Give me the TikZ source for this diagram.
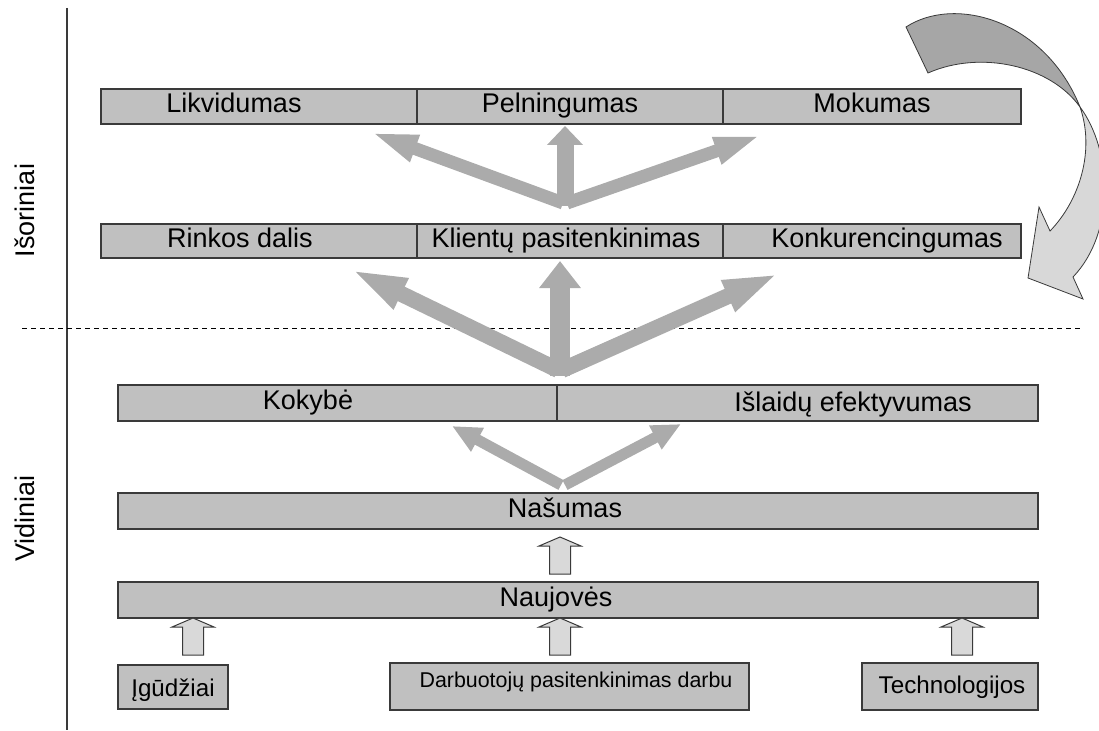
\documentclass[tikz,border=0pt]{standalone}
\usepackage{fontspec}
\setmainfont{Liberation Sans}
\usetikzlibrary{arrows.meta,calc}
\definecolor{boxgray}{HTML}{C0C0C0}
\definecolor{edgegray}{HTML}{3A3A3A}
\definecolor{fangray}{HTML}{ABABAB}
\definecolor{lightfill}{HTML}{D9D9D9}
\definecolor{curvedark}{HTML}{A6A6A6}
\definecolor{curvelight}{HTML}{D8D8D8}
\begin{document}
\begin{tikzpicture}[x=1pt,y=-1pt,
  box/.style={draw=edgegray, line width=1.2pt, fill=boxgray, inner sep=0pt, outer sep=0pt, rectangle},
  txt/.style={anchor=base, inner sep=0pt, font=\fontsize{27}{30}\selectfont},
  smalltxt/.style={anchor=base, inner sep=0pt, font=\fontsize{21.4}{24}\selectfont},
  midtxt/.style={anchor=base, inner sep=0pt, font=\fontsize{24.2}{27}\selectfont},
  fan/.style={draw=fangray, line cap=butt},
  hollow/.style={draw=edgegray, line width=1pt, fill=lightfill, line join=miter},
  uparrow/.pic={\draw[hollow] (-10.5,0) -- (-10.5,-28) -- (-21,-28) -- (0,-37) -- (21,-28) -- (10.5,-28) -- (10.5,0) -- cycle;}
]
\useasboundingbox (0,0) rectangle (1099,730);

% axis lines
\coordinate (vtop) at (67,8);
\coordinate (vbot) at (67,730);
\draw[edgegray, line width=1.3pt] (vtop) -- (vbot);
\coordinate (dl) at (22,328);
\coordinate (dr) at (1080,328);
\draw[black, line width=1pt, dash pattern=on 5pt off 4pt] (dl) -- (dr);

% side labels
\node[txt, rotate=90] (ext) at (34,210.5) {Išoriniai};
\node[txt, rotate=90] (int) at (34,518.5) {Vidiniai};

% row 1
\node[box, minimum width=316pt, minimum height=35pt] (lik) at (259,106.5) {};
\node[box, minimum width=306pt, minimum height=35pt] (pel) at (570,106.5) {};
\node[box, minimum width=298pt, minimum height=35pt] (mok) at (872,106.5) {};
\node[txt] (likt) at (234,113) {Likvidumas};
\node[txt] (pelt) at (560,113) {Pelningumas};
\node[txt] (mokt) at (872,113) {Mokumas};

% row 2
\node[box, minimum width=316pt, minimum height=34pt] (rin) at (259,241) {};
\node[box, minimum width=306pt, minimum height=34pt] (kli) at (570,241) {};
\node[box, minimum width=298pt, minimum height=34pt] (kon) at (872,241) {};
\node[txt] (rint) at (240,247) {Rinkos dalis};
\node[txt] (klit) at (566,247) {Klientų pasitenkinimas};
\node[txt] (kont) at (887,247) {Konkurencingumas};

% row 3
\node[box, minimum width=439pt, minimum height=36pt] (kok) at (337.5,403) {};
\node[box, minimum width=481pt, minimum height=36pt] (isl) at (797.5,403) {};
\node[txt] (kokt) at (308,409) {Kokybė};
\node[txt] (islt) at (853,411) {Išlaidų efektyvumas};

% Našumas, Naujovės
\node[box, minimum width=920pt, minimum height=36pt] (nas) at (578,511) {};
\node[txt] (nast) at (565,517) {Našumas};
\node[box, minimum width=920pt, minimum height=36pt] (nau) at (578,600) {};
\node[txt] (naut) at (556,606) {Naujovės};

% bottom boxes
\node[box, minimum width=110pt, minimum height=44pt] (ig) at (173,687) {};
\node[midtxt] (igt) at (173,696) {Įgūdžiai};
\node[box, minimum width=359pt, minimum height=47pt] (dar) at (569.5,686.5) {};
\node[smalltxt] (dart) at (576,687) {Darbuotojų pasitenkinimas darbu};
\node[box, minimum width=176pt, minimum height=47pt] (tec) at (950,686.5) {};
\node[midtxt] (tect) at (952,693) {Technologijos};

% hollow up arrows
\pic at (193,655) {uparrow};
\pic at (560,655) {uparrow};
\pic at (962,655) {uparrow};
\pic at (560,574) {uparrow};

% fan 1 (row 2 -> row 1)
\coordinate (f1c) at (565,206);
\coordinate (f1l) at (563,203);
\coordinate (f1r) at (567,203);
\coordinate (t1c) at (565,126);
\coordinate (t1l) at (370,132);
\coordinate (t1r) at (762,135);
\draw[fan, line width=13pt, -{Triangle[length=48pt,width=25pt]}] (f1l) -- (t1l);
\draw[fan, line width=13pt, -{Triangle[length=48pt,width=25pt]}] (f1r) -- (t1r);
\draw[fan, line width=17pt, -{Triangle[length=19pt,width=35pt]}] (f1c) -- (t1c);

% fan 2 (row 3 -> row 2)
\coordinate (f2c) at (560,376);
\coordinate (f2l) at (558,370);
\coordinate (f2r) at (562,370);
\coordinate (t2c) at (560,261);
\coordinate (t2l) at (350,269);
\coordinate (t2r) at (780,273);
\draw[fan, line width=16pt, -{Triangle[length=57pt,width=30pt]}] (f2l) -- (t2l);
\draw[fan, line width=16pt, -{Triangle[length=57pt,width=30pt]}] (f2r) -- (t2r);
\draw[fan, line width=20pt, -{Triangle[length=27pt,width=40pt]}] (f2c) -- (t2c);

% fan 3 (Našumas -> row 3)
\coordinate (f3l) at (561,485);
\coordinate (f3r) at (565,485);
\coordinate (t3l) at (452,426);
\coordinate (t3r) at (681,424);
\draw[fan, line width=11pt, -{Triangle[length=29pt,width=25pt]}] (f3l) -- (t3l);
\draw[fan, line width=11pt, -{Triangle[length=29pt,width=25pt]}] (f3r) -- (t3r);

% curved arrow
\draw[edgegray, line width=0.8pt, fill=curvelight, line join=miter]
  (1080,107) .. controls (1095,150) and (1080,200) .. (1050,231)
  -- (1039,207) -- (1028,278) -- (1083,299) -- (1073,277)
  .. controls (1116,232) and (1112,150) .. (1080,107) -- cycle;
\draw[edgegray, line width=0.8pt, fill=curvedark, line join=miter]
  (906,27) .. controls (955,-5) and (1045,20) .. (1080,107)
  .. controls (1050,65) and (980,50) .. (928,73) -- cycle;
\end{tikzpicture}
\end{document}
